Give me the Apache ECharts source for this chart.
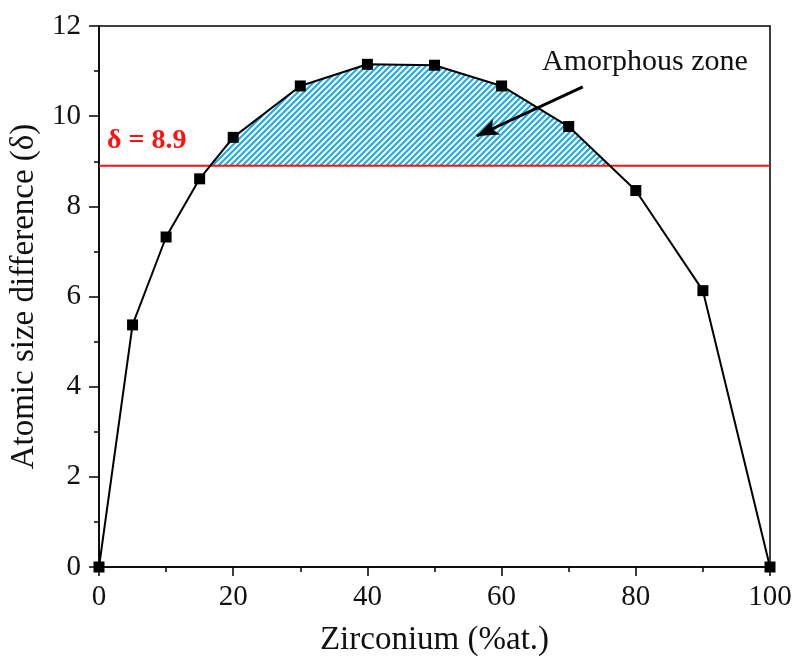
<!DOCTYPE html>
<html>
<head>
<meta charset="utf-8">
<script src="https://cdn.jsdelivr.net/npm/echarts@6/dist/echarts.min.js"></script>
<style>html,body{margin:0;padding:0;background:#fff;}#c{width:795px;height:668px;}</style>
</head>
<body>
<div id="c"></div>
<script>
// ---- data ----
const zirconium = [0, 5, 10, 15, 20, 30, 40, 50, 60, 70, 80, 90, 100];
const delta = [0, 5.37, 7.32, 8.61, 9.53, 10.67, 11.15, 11.13, 10.67, 9.77, 8.35, 6.13, 0];
const threshold = 8.9;
const xTicks = [0, 20, 40, 60, 80, 100];
const yTicks = [0, 2, 4, 6, 8, 10, 12];
const arrowFrom = [72.1, 10.65];
const arrowTo = [56.3, 9.56];

const FONT = '"Liberation Serif", "Times New Roman", serif';

// hatch pattern
const pc = document.createElement('canvas');
pc.width = 6; pc.height = 6;
const g = pc.getContext('2d');
g.fillStyle = '#ffffff'; g.fillRect(0, 0, 6, 6);
g.strokeStyle = '#1aaeea'; g.lineWidth = 2.2;
g.beginPath();
g.moveTo(-1, 7); g.lineTo(7, -1);
g.moveTo(-4, 4); g.lineTo(4, -4);
g.moveTo(2, 10); g.lineTo(10, 2);
g.stroke();

function hatchPolygon() {
  const pts = [];
  for (let i = 0; i < zirconium.length; i++) {
    const x = zirconium[i], y = delta[i];
    if (i > 0) {
      const x0 = zirconium[i - 1], y0 = delta[i - 1];
      if ((y0 - threshold) * (y - threshold) < 0) {
        const t = (threshold - y0) / (y - y0);
        pts.push([x0 + t * (x - x0), threshold]);
      }
    }
    if (y >= threshold) pts.push([x, y]);
  }
  return pts;
}

const chart = echarts.init(document.getElementById('c'), null, {renderer: 'canvas'});
const series = zirconium.map((x, i) => [x, delta[i]]);

chart.setOption({
  animation: false,
  backgroundColor: '#fff',
  grid: {left: 99, right: 25, top: 26, bottom: 101, containLabel: false, outerBoundsMode: 'none',
    show: true, borderColor: '#000', borderWidth: 1.5, backgroundColor: 'transparent'},
  xAxis: {
    type: 'value', min: 0, max: 100, interval: 20,
    name: 'Zirconium (%at.)', nameLocation: 'middle', nameGap: 57,
    nameTextStyle: {fontFamily: FONT, fontSize: 33, color: '#111'},
    axisLine: {show: true, lineStyle: {color: '#000', width: 1.5}},
    axisTick: {show: true, inside: false, length: 9, lineStyle: {color: '#000', width: 1.5}},
    minorTick: {show: true, splitNumber: 2, length: 5, lineStyle: {color: '#000', width: 1.5}},
    splitLine: {show: false},
    axisLabel: {fontFamily: FONT, fontSize: 29, color: '#111', margin: 16,
      formatter: v => xTicks.includes(v) ? String(v) : ''}
  },
  yAxis: {
    type: 'value', min: 0, max: 12, interval: 2,
    name: 'Atomic size difference (δ)', nameLocation: 'middle', nameGap: 53,
    nameTextStyle: {fontFamily: FONT, fontSize: 33, color: '#111'},
    axisLine: {show: true, lineStyle: {color: '#000', width: 1.5}},
    axisTick: {show: true, inside: false, length: 10, lineStyle: {color: '#000', width: 1.5}},
    minorTick: {show: true, splitNumber: 2, length: 5, lineStyle: {color: '#000', width: 1.5}},
    splitLine: {show: false},
    axisLabel: {fontFamily: FONT, fontSize: 29, color: '#111', margin: 18,
      formatter: v => yTicks.includes(v) ? String(v) : ''}
  },
  series: [
    {
      type: 'custom', z: 1, silent: true,
      data: [[0]],
      renderItem: function (params, api) {
        const pts = hatchPolygon().map(p => api.coord(p));
        return {type: 'polygon', shape: {points: pts},
          style: {fill: {image: pc, repeat: 'repeat'}, stroke: 'none'}};
      }
    },
    {
      type: 'line', z: 2, silent: true, symbol: 'none',
      data: [[0, threshold], [100, threshold]],
      lineStyle: {color: '#ff1010', width: 2}
    },
    {
      type: 'line', z: 3, data: series,
      symbol: 'rect', symbolSize: 11,
      itemStyle: {color: '#000'},
      lineStyle: {color: '#000', width: 2},
      markLine: {
        silent: true, symbol: ['none', 'arrow'], symbolSize: [13, 22],
        lineStyle: {color: '#000', width: 3, type: 'solid'},
        label: {show: false},
        data: [[{coord: arrowFrom}, {coord: arrowTo}]]
      }
    }
  ],
  graphic: [
    {type: 'text', left: 542, top: 47, style: {text: 'Amorphous zone', fontFamily: FONT, fontSize: 30, fill: '#111'}},
    {type: 'text', left: 107, top: 127, style: {text: 'δ = 8.9', fontFamily: FONT, fontSize: 28, fontWeight: 'bold', fill: '#ff1010'}}
  ]
});
</script>
</body>
</html>
